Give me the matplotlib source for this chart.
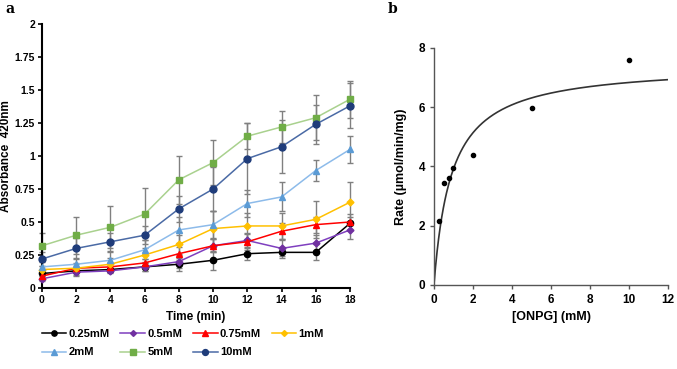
import numpy as np
import matplotlib
matplotlib.use("Agg")
import matplotlib.pyplot as plt

plt.rcParams['font.family'] = ['Liberation Sans', 'DejaVu Sans']

# panel a: absorbance over time
time = [0, 2, 4, 6, 8, 10, 12, 14, 16, 18]
labels = ['0.25mM', '0.5mM', '0.75mM', '1mM', '2mM', '5mM', '10mM']
abs_025 = [0.11, 0.13, 0.14, 0.16, 0.18, 0.21, 0.26, 0.27, 0.27, 0.49]
abs_05 = [0.07, 0.12, 0.13, 0.16, 0.20, 0.32, 0.36, 0.30, 0.34, 0.44]
abs_075 = [0.09, 0.15, 0.16, 0.19, 0.26, 0.32, 0.35, 0.43, 0.48, 0.50]
abs_1 = [0.14, 0.15, 0.18, 0.25, 0.33, 0.45, 0.47, 0.47, 0.52, 0.65]
abs_2 = [0.16, 0.18, 0.21, 0.29, 0.44, 0.48, 0.64, 0.69, 0.89, 1.05]
abs_5 = [0.32, 0.40, 0.46, 0.56, 0.82, 0.95, 1.15, 1.22, 1.29, 1.43]
abs_10 = [0.22, 0.30, 0.35, 0.40, 0.60, 0.75, 0.98, 1.07, 1.24, 1.38]

err_025 = [0.02, 0.03, 0.02, 0.03, 0.05, 0.07, 0.05, 0.04, 0.06, 0.05]
err_05 = [0.02, 0.03, 0.02, 0.03, 0.05, 0.05, 0.06, 0.06, 0.06, 0.07]
err_075 = [0.02, 0.03, 0.03, 0.03, 0.05, 0.05, 0.06, 0.06, 0.06, 0.06]
err_1 = [0.03, 0.04, 0.05, 0.05, 0.07, 0.13, 0.1, 0.1, 0.14, 0.15]
err_2 = [0.04, 0.05, 0.06, 0.07, 0.1, 0.1, 0.1, 0.11, 0.08, 0.1]
err_5 = [0.1, 0.14, 0.16, 0.2, 0.18, 0.17, 0.1, 0.12, 0.17, 0.14]
err_10 = [0.05, 0.08, 0.07, 0.07, 0.1, 0.17, 0.27, 0.2, 0.15, 0.17]

# panel b: Michaelis-Menten
onpg = [0.25, 0.5, 0.75, 1.0, 2.0, 5.0, 10.0]
rate = [2.15, 3.45, 3.6, 3.95, 4.4, 5.98, 7.6]
vmax = 7.45
km = 0.9

series = [abs_025, abs_05, abs_075, abs_1, abs_2, abs_5, abs_10]
errors = [err_025, err_05, err_075, err_1, err_2, err_5, err_10]
line_colors = ['#000000', '#7F3FBF', '#FF0000', '#FFC000', '#8DBBEA', '#A9D18E', '#4A6AA5']
marker_colors = ['#000000', '#7030A0', '#FF0000', '#FFC000', '#5B9BD5', '#70AD47', '#1F3C7A']
markers = ['o', 'D', '^', 'D', '^', 's', 'o']
msizes = [4.5, 3.5, 4.5, 3.5, 4.5, 5, 5]

fig = plt.figure(figsize=(6.77, 3.69), dpi=100)
ax1 = fig.add_axes([0.062, 0.2195, 0.455, 0.7155])
ax2 = fig.add_axes([0.641, 0.228, 0.346, 0.642])

for y, e in zip(series, errors):
    ax1.errorbar(time, y, yerr=e, fmt='none', ecolor='#808080', elinewidth=1,
                 capsize=2.5, capthick=1, clip_on=False, zorder=2)
handles = []
for y, lc, mc, m, ms, lab in zip(series, line_colors, marker_colors, markers, msizes, labels):
    h, = ax1.plot(time, y, color=lc, lw=1.1, marker=m, ms=ms, mfc=mc, mec=mc,
                  label=lab, clip_on=False, zorder=3)
    handles.append(h)

ax1.set_xlim(0, 18)
ax1.set_ylim(0, 2)
ax1.set_xticks(time)
ax1.set_yticks(np.arange(0, 2.01, 0.25))
ax1.set_yticklabels(['0', '0.25', '0.5', '0.75', '1', '1.25', '1.5', '1.75', '2'])
for s in ['top', 'right']:
    ax1.spines[s].set_visible(False)
for s in ['left', 'bottom']:
    ax1.spines[s].set_linewidth(1.5)
ax1.tick_params(direction='out', length=3, width=1.2, labelsize=7.5, pad=2)
for t in ax1.get_xticklabels() + ax1.get_yticklabels():
    t.set_fontweight('bold')
ax1.set_xlabel('Time (min)', fontsize=8.5, fontweight='bold', labelpad=4)
ax1.set_ylabel('Absorbance  420nm', fontsize=8.5, fontweight='bold')
ax1.yaxis.set_label_coords(-0.098, 0.5)

# row-major legend order for 4 columns
order = [0, 4, 1, 5, 2, 6, 3]
fig.legend([handles[i] for i in order], [labels[i] for i in order],
           loc='upper center', bbox_to_anchor=(0.27, 0.108), ncol=4, frameon=False,
           prop={'size': 8, 'weight': 'bold'}, handlelength=2.2, markerscale=0.85,
           handletextpad=0.2, columnspacing=1.0, labelspacing=0.75,
           borderaxespad=0, borderpad=0)

xs = np.linspace(0, 12, 300)
ax2.plot(xs, vmax * xs / (km + xs), color='#333333', lw=1.2)
ax2.plot(onpg, rate, 'o', color='#000000', ms=3)
ax2.set_xlim(0, 12)
ax2.set_ylim(0, 8)
ax2.set_xticks(range(0, 13, 2))
ax2.set_yticks(range(0, 9, 2))
for s in ['top', 'right']:
    ax2.spines[s].set_visible(False)
for s in ['left', 'bottom']:
    ax2.spines[s].set_color('#555555')
    ax2.spines[s].set_linewidth(1)
ax2.tick_params(direction='out', length=3, width=1, color='#555555', labelsize=8.5)
for t in ax2.get_xticklabels() + ax2.get_yticklabels():
    t.set_fontweight('bold')
ax2.set_xlabel('[ONPG] (mM)', fontsize=9, fontweight='bold', labelpad=4)
ax2.set_ylabel('Rate (\u00b5mol/min/mg)', fontsize=9, fontweight='bold', labelpad=8)

fig.text(0.008, 0.965, 'a', fontsize=10, fontweight='bold', family='DejaVu Serif')
fig.text(0.573, 0.965, 'b', fontsize=10, fontweight='bold', family='DejaVu Serif')

fig.savefig('out.png', dpi=100)
